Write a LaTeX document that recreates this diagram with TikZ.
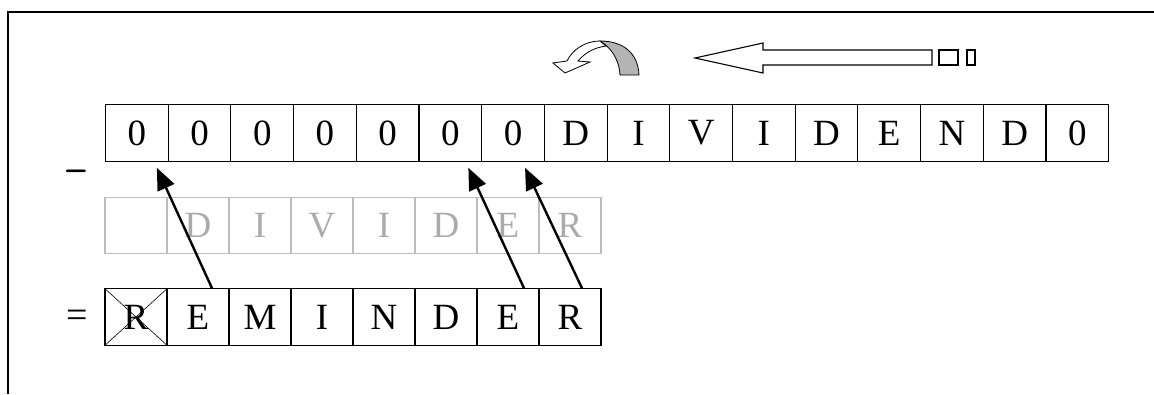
\documentclass[tikz,border=0pt]{standalone}
\usepackage{fontspec}
\setmainfont{Liberation Serif}
\usepackage{tikz}
\usetikzlibrary{arrows.meta}
\definecolor{divgray}{HTML}{BDBDBD}
\definecolor{divtext}{HTML}{ABABAB}
\definecolor{turngray}{HTML}{B4B4B4}

\begin{document}
\begin{tikzpicture}[
    x=1pt, y=-1pt,
    cell/.style={draw, line width=1.1pt, minimum width=62.7pt, minimum height=56.5pt,
                 inner sep=0pt, font=\fontsize{37}{40}\selectfont},
    lowcell/.style={cell, minimum width=62pt},
    divcell/.style={lowcell, draw=divgray, text=divtext},
    carry/.style={-{Triangle[length=22pt, width=18pt]}, line width=2.4pt}
]
    \useasboundingbox (0,0) rectangle (1154,394);

    % frame
    \draw [line width=2.6pt] (8,394) -- (8,12) -- (1154,12);

    % shift symbols
    \filldraw [fill=turngray, line width=0.8pt] (620,75) -- (639,75)
        .. controls (638,52) and (622,41) .. (600,41)
        .. controls (610,47) and (619,58) .. cycle;
    \filldraw [fill=white, line width=0.8pt] (600,41)
        .. controls (585,41) and (572,50) .. (567,61) -- (553,63) -- (565,73)
        -- (590,62) -- (578,61)
        .. controls (584,54) and (592,48) .. (606,46) -- cycle;
    \draw [line width=1.1pt] (695,58) -- (763,43) -- (763,50) -- (932,50) -- (932,65)
        -- (763,65) -- (763,73) -- cycle;
    \draw [line width=1.1pt] (939,50) rectangle (958,65);
    \draw [line width=1.1pt] (967,50) rectangle (975,65);

    % dividend
    \foreach \c [count=\i] in {0,0,0,0,0,0,0,D,I,V,I,D,E,N,D,0} {
        \node [cell] (t\i) at ({105.5+62.7*(\i-0.5)},133) {\c};
    }
    % divider
    \foreach \c [count=\i] in {{},D,I,V,I,D,E,R} {
        \node [divcell] (d\i) at ({105+62*(\i-0.5)},225.5) {\c};
    }
    % reminder
    \foreach \c [count=\i] in {R,E,M,I,N,D,E,R} {
        \node [lowcell] (r\i) at ({105+62*(\i-0.5)},317) {\c};
    }
    \draw [line width=0.6pt] (r1.north west) -- (r1.south east)
                             (r1.north east) -- (r1.south west);

    \node [font=\fontsize{36}{38}\selectfont\bfseries\sffamily] (minus) at (76,176) {--};
    \node [font=\fontsize{38}{40}\selectfont] (eq) at (77,319) {=};

    \draw [carry] ([xshift=14pt]r2.north) -- ([xshift=20pt,yshift=-6pt]t1.south);
    \draw [carry] ([xshift=16pt]r7.north) -- ([xshift=18pt,yshift=-6pt]t6.south);
    \draw [carry] ([xshift=12pt]r8.north) -- ([xshift=12pt,yshift=-6pt]t7.south);
\end{tikzpicture}
\end{document}
